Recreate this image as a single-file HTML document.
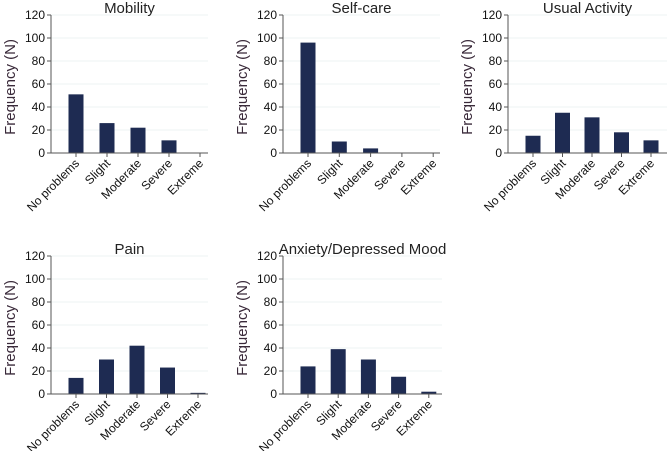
<!DOCTYPE html>
<html><head><meta charset="utf-8"><style>
body{margin:0;background:#fff;width:669px;height:451px;overflow:hidden;font-family:"Liberation Sans",Arial,sans-serif}
</style></head><body>
<svg id="c" width="669" height="451" xmlns="http://www.w3.org/2000/svg"></svg>
<script>
const categories=["No problems","Slight","Moderate","Severe","Extreme"];
const titles=["Mobility","Self-care","Usual Activity","Pain","Anxiety/Depressed Mood"];
const mobility=[51,26,22,11,0];
const selfCare=[96,10,4,0,0];
const usualActivity=[15,35,31,18,11];
const pain=[14,30,42,23,1];
const anxiety=[24,39,30,15,2];
const yTicks=[0,20,40,60,80,100,120];
const series=[mobility,selfCare,usualActivity,pain,anxiety];
const svg=document.getElementById('c');
const NS='http://www.w3.org/2000/svg';
function el(t,a,p){const e=document.createElementNS(NS,t);for(const k in a)e.setAttribute(k,a[k]);(p||svg).appendChild(e);return e;}
const layout=[[51,153,157,31],[283,153,157,31.3],[508,153,159,29.5],[51,394,157,30.5],[283,394,159,30.2]];
series.forEach((vals,i)=>{
  const [ax,ay,w,sp]=layout[i];
  const h=138;
  const y=v=>ay-v/120*h;
  const x=j=>ax+25+j*sp;
  const g=el('g',{});
  
  
  yTicks.forEach(t=>{
    if(t>0){const gl=el('line',{x1:ax,x2:ax+w,y1:y(t),y2:y(t),stroke:'#eef3f3','stroke-width':1},g);
    }
    el('line',{x1:ax-4,x2:ax,y1:y(t),y2:y(t),stroke:'#555'},g);
    const tl=el('text',{x:ax-6,y:y(t)+4,'text-anchor':'end','font-size':12,fill:'#111'},g);
    tl.textContent=t;
    
  });
  vals.forEach((v,j)=>{
    const b=el('rect',{x:x(j)-7.5,y:y(v),width:15,height:Math.max(0,ay-y(v)),fill:'#1e2b52'},g);
    
    
    el('line',{x1:x(j),x2:x(j),y1:ay,y2:ay+4,stroke:'#555'},g);
    const cl=el('text',{x:x(j)+4,y:ay+11,'text-anchor':'end','font-size':12,fill:'#111',transform:`rotate(-45 ${x(j)+4} ${ay+11})`},g);
    cl.textContent=categories[j];
    
  });
  el('line',{x1:ax,x2:ax,y1:y(120),y2:ay,stroke:'#555'},g);
  el('line',{x1:ax,x2:ax+w,y1:ay,y2:ay,stroke:'#555'},g);
  const tt=el('text',{x:ax+w/2,y:ay-h-2,'text-anchor':'middle','font-size':15,fill:'#222'},g);
  tt.textContent=titles[i];
  
  const yl=el('text',{x:0,y:0,'text-anchor':'middle','font-size':15,fill:'#3a2a3a',transform:`translate(${ax-36} ${ay-h/2+3}) rotate(-90)`},g);
  yl.textContent='Frequency (N)';
  
});
</script>
</body></html>
